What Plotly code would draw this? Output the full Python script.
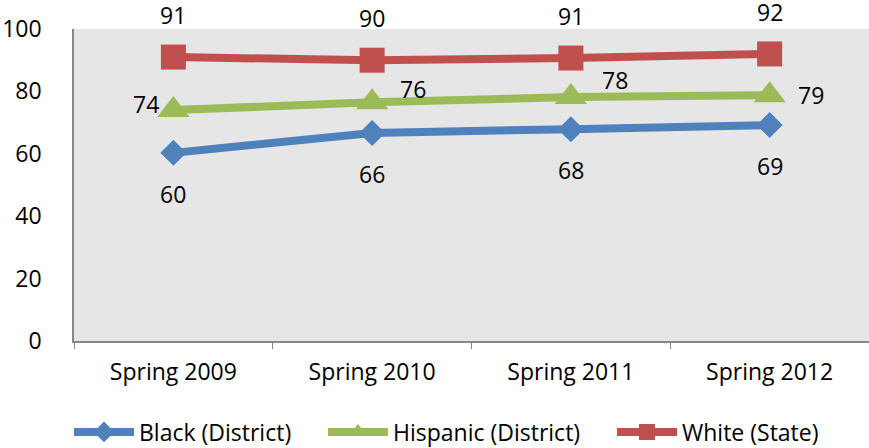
import plotly.graph_objects as go

categories = ["Spring 2009", "Spring 2010", "Spring 2011", "Spring 2012"]
black = [60.3, 66.7, 67.9, 69.2]
hispanic = [74, 76.5, 78.2, 78.8]
white = [91, 90, 90.7, 92]
black_labels = ["60", "66", "68", "69"]
hispanic_labels = ["74", "76", "78", "79"]
white_labels = ["91", "90", "91", "92"]

FONT = "Open Sans"
FS = 23
W, H = 869, 448
fig = go.Figure()
series = [
    ("Black (District)", black, "#4F81BD", "diamond", 20, "legend"),
    ("Hispanic (District)", hispanic, "#9BBB59", "triangle-up", 28, "legend2"),
    ("White (State)", white, "#C0504D", "square", 25, "legend3"),
]
for name, vals, col, sym, sz, lg in series:
    fig.add_trace(go.Scatter(
        x=categories, y=vals, mode="lines+markers", name=name, legend=lg,
        line=dict(color=col, width=8),
        marker=dict(symbol=sym, size=sz, color=col),
    ))

ann = []
for c, v, t in zip(categories, black, black_labels):
    ann.append(dict(x=c, y=v, text=t, yshift=-41, xshift=0))
h_shift = [(-27, 6), (41, 13), (44, 17), (41, 0)]
for (c, v, t), (dx, dy) in zip(zip(categories, hispanic, hispanic_labels), h_shift):
    ann.append(dict(x=c, y=v, text=t, xshift=dx, yshift=dy))
for c, v, t in zip(categories, white, white_labels):
    ann.append(dict(x=c, y=v, text=t, yshift=42))
for a in ann:
    a.update(showarrow=False, font=dict(family=FONT, size=FS, color="#000"))


def leg(xpx):
    return dict(orientation="h", x=xpx / W, xanchor="left", xref="container",
                y=16 / H, yanchor="middle", yref="container",
                itemwidth=60, font=dict(family=FONT, size=FS), bgcolor="rgba(0,0,0,0)")


fig.update_layout(
    width=W, height=H,
    margin=dict(l=74, r=0, t=29, b=107, autoexpand=False),
    paper_bgcolor="white", plot_bgcolor="#E6E6E6",
    font=dict(family=FONT, size=FS, color="#000"),
    annotations=ann,
    showlegend=True,
    legend=leg(69), legend2=leg(323), legend3=leg(612),
    xaxis=dict(type="category", range=[-0.5, 3.5], showgrid=False, automargin=False,
               showline=True, linecolor="#888", linewidth=1.5,
               ticks="outside", tickson="boundaries", ticklen=6, tickcolor="#888",
               ticklabelstandoff=10,
               tickfont=dict(family=FONT, size=FS)),
    yaxis=dict(range=[0, 100], dtick=20, showgrid=False, zeroline=False, automargin=False,
               showline=True, linecolor="#888", linewidth=1.5, ticks="",
               ticklabelstandoff=26,
               tickfont=dict(family=FONT, size=FS)),
)
fig.write_html("out.html", config={"displayModeBar": False},
               post_script="document.body.style.margin='0';document.body.style.overflow='hidden';"
                           "document.documentElement.style.overflow='hidden';")
